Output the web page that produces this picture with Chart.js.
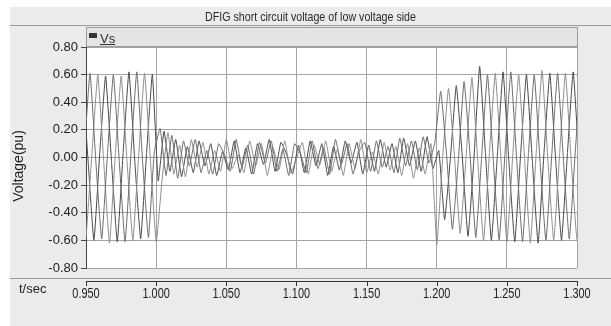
<!DOCTYPE html>
<html>
<head>
<meta charset="utf-8">
<script src="https://cdn.jsdelivr.net/npm/chart.js@4.4.0/dist/chart.umd.min.js"></script>
<style>
  body { margin: 0; background: #fff; }
  #wrap { width: 611px; height: 326px; }
</style>
</head>
<body>
<div id="wrap"><canvas id="vsChart" width="611" height="326"></canvas></div>
<script>
const chartTitle = 'DFIG short circuit voltage of low voltage side';
const seriesLabel = 'Vs';
const yAxisTitle = 'Voltage(pu)';
const xAxisTitle = 't/sec';

// axis ticks
const xTickValues = [0.95, 1.0, 1.05, 1.1, 1.15, 1.2, 1.25, 1.3];
const yTickValues = [-0.8, -0.6, -0.4, -0.2, 0, 0.2, 0.4, 0.6, 0.8];

const sampleStep = 1 / 240;
const phaseStart = [0.94451, 0.95007, 0.94729];

// phase A: before fault / during fault (1.0-1.2 s) / after
const vaPre = [-0.60, 0.02, 0.61, -0.03, -0.59, 0.03, 0.60, -0.02, -0.61, 0.02, 0.62, -0.03, -0.58, 0.04];
const vaFault = [
  0.21, -0.13, 0.16, -0.15, 0.12, -0.06, 0.13, -0.11,
  0.05, -0.12, 0.10, 0.02, -0.10, 0.13, -0.07, 0.09,
  -0.12, 0.11, -0.04, 0.12, -0.10, 0.06, -0.13, 0.10,
  0.03, -0.11, 0.12, -0.08, 0.07, -0.12, 0.13, -0.05,
  0.10, -0.12, 0.04, 0.11, -0.10, 0.12, -0.07, 0.08,
  -0.11, 0.14, -0.06, 0.12, -0.09, 0.15, -0.04, 0.11];
const vaPost = [0.48, 0.02, -0.52, -0.03, 0.55, 0.03, -0.58, 0.00, 0.60, -0.02, -0.60, 0.03, 0.62,
  -0.02, -0.61, 0.02, 0.60, -0.03, -0.60, 0.02, 0.61, -0.02, -0.59, 0.03, 0.62];

// phase B
const vbPre = [-0.58, 0.03, 0.60, -0.02, -0.62, 0.02, 0.59, -0.03, -0.60, 0.02, 0.61, -0.02, -0.61];
const vbFault = [
  -0.16, 0.18, -0.12, 0.09, -0.14, 0.13, -0.07, 0.11,
  -0.12, 0.05, -0.10, 0.13, -0.08, 0.02, -0.11, 0.12,
  -0.06, 0.10, -0.13, 0.07, -0.09, 0.12, -0.11, -0.01,
  0.11, -0.12, 0.09, -0.05, 0.12, -0.10, 0.06, -0.13,
  0.10, -0.08, 0.13, -0.11, 0.04, -0.12, 0.11, -0.09,
  0.08, -0.13, 0.10, -0.15, 0.07, -0.12, 0.10];
const vbPost = [-0.63, 0.00, 0.50, 0.02, -0.55, 0.00, 0.58, -0.02, -0.60, 0.03, 0.61, -0.03, -0.61,
  0.02, 0.60, 0.00, -0.62, 0.03, 0.63, -0.02, -0.60, 0.02, 0.61, -0.03, -0.60, 0.02, 0.60];

// phase C
const vcPre = [0.61, -0.02, -0.60, 0.03, 0.59, -0.02, -0.61, 0.03, 0.62, -0.03, -0.59, 0.02, 0.60];
const vcFault = [
  -0.17, 0.19, -0.10, 0.13, -0.14, 0.08, -0.11, 0.12,
  -0.06, 0.10, -0.13, 0.04, -0.09, 0.12, -0.11, 0.07,
  -0.12, 0.10, -0.05, 0.13, -0.10, 0.11, 0.02, -0.12,
  0.09, -0.11, 0.12, -0.06, 0.10, -0.13, 0.08, -0.09,
  0.12, -0.04, 0.11, -0.12, 0.09, -0.10, 0.13, -0.07,
  0.10, -0.11, 0.14, -0.06, 0.12, -0.10, 0.15, -0.08];
const vcPost = [0.05, -0.45, 0.00, 0.52, 0.02, -0.57, -0.02, 0.66, 0.02, -0.60, 0.00, 0.62, -0.03,
  -0.61, 0.02, 0.60, -0.02, -0.62, 0.03, 0.61, -0.02, -0.60, 0.02, 0.62, -0.03, -0.60];

const phaseValues = [
  vaPre.concat(vaFault, vaPost),
  vbPre.concat(vbFault, vbPost),
  vcPre.concat(vcFault, vcPost)
];
const phaseColors = ['#6c6c6c', '#8e8e8e', '#484848'];

const regular = '"Liberation Sans", Arial, sans-serif';

// condensed text, like the narrow font of the original plot
function narrowText(ctx, text, x, y, size, squeeze, align) {
  ctx.save();
  ctx.font = size + 'px ' + regular;
  ctx.textAlign = align;
  ctx.textBaseline = 'alphabetic';
  ctx.translate(x, y);
  ctx.scale(squeeze, 1);
  ctx.fillText(text, 0, 0);
  ctx.restore();
}

// panel backgrounds, legend strip, titles, separate time axis
const panelPlugin = {
  id: 'panel',
  beforeDraw(chart) {
    const ctx = chart.ctx, a = chart.chartArea;
    ctx.save();
    ctx.fillStyle = '#fff';
    ctx.fillRect(0, 0, chart.width, chart.height);
    ctx.fillStyle = '#ebebeb';
    ctx.fillRect(10, 7, chart.width - 10, chart.height - 7);
    ctx.strokeStyle = '#9a9a9a';
    ctx.lineWidth = 1;
    ctx.beginPath();
    ctx.moveTo(10, 25.5); ctx.lineTo(chart.width, 25.5);
    ctx.moveTo(10, 278.5); ctx.lineTo(chart.width, 278.5);
    ctx.stroke();
    // legend strip
    ctx.fillStyle = '#e4e4e4';
    ctx.fillRect(a.left + 1, 27, a.right - a.left - 1, a.top - 27);
    ctx.strokeRect(a.left + 0.5, 27.5, a.right - a.left, a.top - 28);
    ctx.fillStyle = '#fff';
    ctx.fillRect(a.left, a.top, a.right - a.left, a.bottom - a.top);
    ctx.restore();
  },
  afterDraw(chart) {
    const ctx = chart.ctx, a = chart.chartArea, xs = chart.scales.x;
    ctx.save();
    ctx.fillStyle = '#2a2a2a';
    narrowText(ctx, chartTitle, (10 + chart.width) / 2, 21, 13, 0.82, 'center');

    // time axis line with ticks below the separator
    ctx.strokeStyle = '#333';
    ctx.lineWidth = 1;
    ctx.beginPath();
    ctx.moveTo(a.left, 281.5); ctx.lineTo(a.right + 1, 281.5);
    xTickValues.forEach(v => {
      const px = Math.round(xs.getPixelForValue(v)) + 0.5;
      ctx.moveTo(px, 281.5); ctx.lineTo(px, 286);
    });
    ctx.stroke();
    ctx.fillStyle = '#222';
    xTickValues.forEach(v => {
      narrowText(ctx, v.toFixed(3), xs.getPixelForValue(v), 298, 14, 0.78, 'center');
    });

    // legend entry
    ctx.fillStyle = '#333';
    ctx.fillRect(89, 33, 8, 5);
    ctx.font = '13px ' + regular;
    ctx.textBaseline = 'alphabetic';
    ctx.textAlign = 'left';
    ctx.fillText(seriesLabel, 100, 43);
    const w = ctx.measureText(seriesLabel).width;
    ctx.fillRect(100, 44, w, 1);

    // axis captions
    ctx.fillStyle = '#222';
    ctx.fillText(xAxisTitle, 19, 293);
    ctx.translate(19, 166);
    ctx.rotate(-Math.PI / 2);
    ctx.font = '14px ' + regular;
    ctx.textAlign = 'center';
    ctx.textBaseline = 'middle';
    ctx.fillText(yAxisTitle, 0, 0);
    ctx.restore();
  }
};

new Chart(document.getElementById('vsChart').getContext('2d'), {
  type: 'line',
  data: {
    datasets: phaseValues.map((vals, p) => ({
      label: seriesLabel,
      data: vals.map((v, i) => ({ x: phaseStart[p] + i * sampleStep, y: v })),
      borderColor: phaseColors[p],
      borderWidth: 1,
      pointRadius: 0,
      tension: 0.12,
      fill: false
    }))
  },
  options: {
    responsive: false,
    animation: false,
    layout: { padding: { top: 47, left: 10, right: 34, bottom: 0 } },
    plugins: {
      legend: { display: false },
      tooltip: { enabled: false },
      title: { display: false }
    },
    scales: {
      x: {
        type: 'linear',
        min: 0.95,
        max: 1.3,
        afterBuildTicks: s => { s.ticks = xTickValues.map(v => ({ value: v })); },
        afterFit: s => { s.height = 58; },
        grid: { color: '#a4a4a4', drawTicks: false },
        border: { display: false },
        ticks: { display: false }
      },
      y: {
        min: -0.8,
        max: 0.8,
        afterBuildTicks: s => { s.ticks = yTickValues.map(v => ({ value: v })); },
        afterFit: s => { s.width = 76; },
        grid: { color: '#a4a4a4', tickColor: '#444', tickLength: 5 },
        border: { color: '#444', width: 1 },
        ticks: {
          padding: 3,
          color: '#222',
          font: { family: regular, size: 13 },
          callback: v => v.toFixed(2)
        }
      }
    }
  },
  plugins: [panelPlugin]
});
</script>
</body>
</html>
